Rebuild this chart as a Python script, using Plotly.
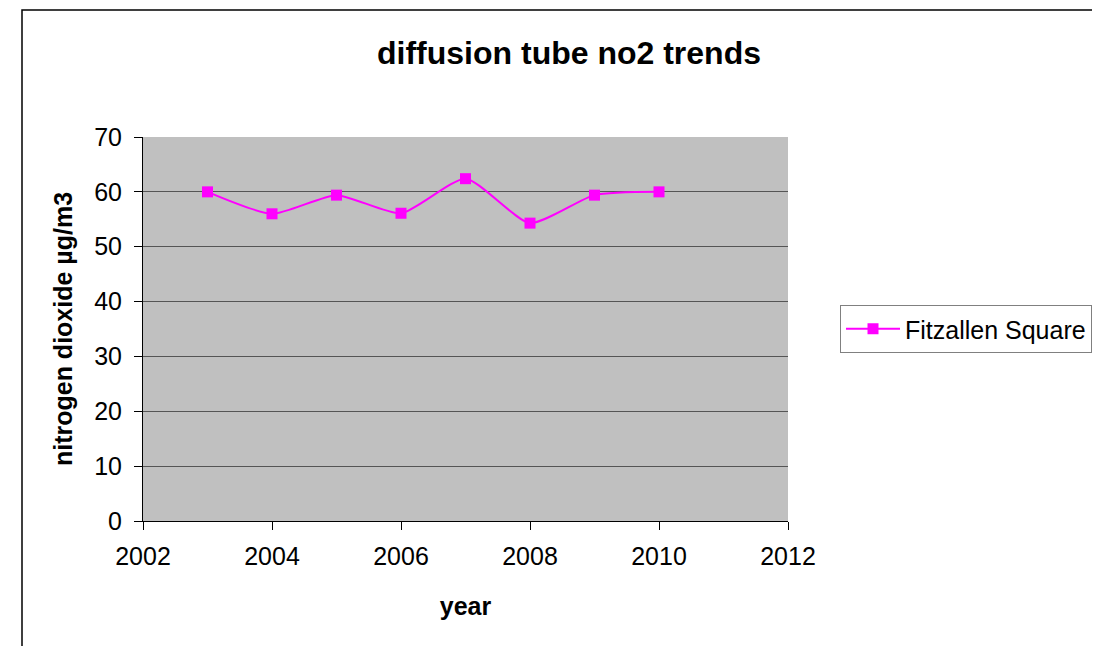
import plotly.graph_objects as go

years = [2003, 2004, 2005, 2006, 2007, 2008, 2009, 2010]
no2 = [60.0, 56.0, 59.4, 56.1, 62.4, 54.3, 59.4, 60.0]
series_name = "Fitzallen Square"

OFF = 8  # page body margin
W, H = 1100 - OFF, 646 - OFF
L, R, T, B = 143 - OFF, 788 - OFF, 137 - OFF, 521 - OFF


def px(x):
    return (x - OFF - L) / (R - L)


def py(y):
    return (B - (y - OFF)) / (B - T)


fig = go.Figure()
fig.add_trace(go.Scatter(
    x=years, y=no2, name=series_name, mode="lines+markers",
    line=dict(color="#FF00FF", width=2, shape="spline", smoothing=0.6),
    marker=dict(symbol="square", size=11, color="#FF00FF"),
))

fig.update_layout(
    width=W, height=H,
    margin=dict(l=L, r=W - R, t=T, b=H - B, autoexpand=False),
    paper_bgcolor="white", plot_bgcolor="#C0C0C0",
    font=dict(family="Liberation Sans, Arial, sans-serif", size=25, color="black"),
    title=dict(text="<b>diffusion tube no2 trends</b>", xref="container",
               x=(569 - OFF) / W, xanchor="center",
               yref="container", y=1 - (53 - OFF) / H, yanchor="middle",
               font=dict(size=32)),
    showlegend=True,
    legend=dict(x=px(840), xanchor="left", y=py(329), yanchor="middle",
                bordercolor="#808080", borderwidth=1, bgcolor="white",
                itemwidth=54, font=dict(size=25)),
    xaxis=dict(range=[2002, 2012], dtick=2, tick0=2002, showgrid=False,
               showline=True, linecolor="black", linewidth=1,
               ticks="outside", ticklen=8, tickcolor="black",
               tickfont=dict(size=25), ticklabelstandoff=5,
               title=dict(text="<b>year</b>", standoff=28, font=dict(size=25)),
               zeroline=False),
    yaxis=dict(range=[0, 70], dtick=10, showgrid=True, gridcolor="#555555", gridwidth=1,
               showline=True, linecolor="black", linewidth=1,
               ticks="outside", ticklen=8, tickcolor="black",
               tickfont=dict(size=25), ticklabelstandoff=7,
               title=dict(text="<b>nitrogen dioxide µg/m3</b>", standoff=14, font=dict(size=25)),
               zeroline=False),
)

fig.add_shape(type="rect", xref="paper", yref="paper",
              x0=px(22), x1=px(1120), y0=py(10), y1=py(680),
              line=dict(color="black", width=1.5), fillcolor="rgba(0,0,0,0)", layer="below")

fig.write_html("out.html")
